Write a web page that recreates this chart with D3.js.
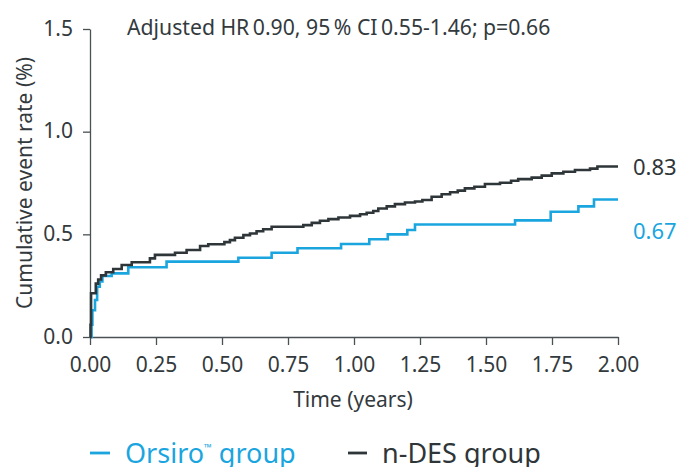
<!DOCTYPE html>
<html>
<head>
<meta charset="utf-8">
<script src="https://cdn.jsdelivr.net/npm/d3@7/dist/d3.min.js"></script>
<style>
  html, body { margin: 0; padding: 0; background: #fff; }
  svg { display: block; font-family: "Noto Sans", "Open Sans", sans-serif; }
</style>
</head>
<body>
<svg id="chart" width="677" height="467"></svg>
<script>
// Kaplan–Meier style cumulative event rates (%), time in years
const orsiroTime  = [0, 0.006, 0.009, 0.019, 0.027, 0.037, 0.047, 0.082, 0.145, 0.29, 0.562, 0.688, 0.786, 0.951, 1.058, 1.128, 1.202, 1.231, 1.61, 1.745, 1.85, 1.909, 2.0];
const orsiroRate  = [0, 0.06, 0.13, 0.18, 0.245, 0.27, 0.297, 0.31, 0.34, 0.367, 0.386, 0.41, 0.432, 0.453, 0.476, 0.5, 0.521, 0.548, 0.568, 0.61, 0.636, 0.67, 0.67];

const ndesTime = [0, 0.002, 0.004, 0.022, 0.031, 0.042, 0.06, 0.088, 0.12, 0.158, 0.227, 0.246, 0.322, 0.366, 0.417, 0.448, 0.509, 0.53, 0.549, 0.581, 0.606, 0.631, 0.656, 0.688, 0.808, 0.84, 0.871, 0.903, 0.941, 0.985, 1.023, 1.048, 1.073, 1.092, 1.124, 1.155, 1.193, 1.231, 1.259, 1.294, 1.332, 1.364, 1.393, 1.42, 1.456, 1.496, 1.553, 1.595, 1.622, 1.673, 1.711, 1.749, 1.793, 1.837, 1.894, 1.922, 2.0];
const ndesRate = [0, 0.06, 0.213, 0.26, 0.28, 0.30, 0.315, 0.331, 0.351, 0.364, 0.383, 0.40, 0.41, 0.424, 0.443, 0.452, 0.462, 0.472, 0.483, 0.496, 0.504, 0.515, 0.525, 0.537, 0.545, 0.556, 0.566, 0.574, 0.582, 0.59, 0.598, 0.605, 0.614, 0.626, 0.636, 0.647, 0.655, 0.66, 0.667, 0.683, 0.695, 0.705, 0.713, 0.724, 0.732, 0.745, 0.751, 0.761, 0.769, 0.776, 0.786, 0.797, 0.805, 0.813, 0.82, 0.83, 0.83];

const xTicks = [0, 0.25, 0.5, 0.75, 1.0, 1.25, 1.5, 1.75, 2.0];
const yTicks = [0, 0.5, 1.0, 1.5];

const endLabels = [0.67, 0.83];
const statsText = "Adjusted HR\u202F0.90, 95\u202F% CI\u202F0.55-1.46; p=0.66";

const blue = "#1ba5df";
const dark = "#2f3639";
const textColor = "#333a3d";

const svg = d3.select("#chart");

const x = d3.scaleLinear().domain([0, 2]).range([90, 618]);
const y = d3.scaleLinear().domain([0, 1.5]).range([337, 29]);

// Axes
const xAxis = d3.axisBottom(x).tickValues(xTicks).tickFormat(d3.format(".2f")).tickSize(8).tickSizeOuter(0).tickPadding(12);
const yAxis = d3.axisLeft(y).tickValues(yTicks).tickFormat(d3.format(".1f")).tickSize(7).tickSizeOuter(0).tickPadding(10);

const gx = svg.append("g").attr("transform", "translate(0,337)").call(xAxis);
const gy = svg.append("g").attr("transform", "translate(90,0)").call(yAxis);

[gx, gy].forEach(g => {
  g.selectAll("path, line").attr("stroke", "#4a5154").attr("stroke-width", 1.3);
  g.selectAll("text").attr("fill", textColor).style("font-size", "21px").style("font-family", "'Noto Sans', sans-serif");
});
gy.selectAll("text").attr("dy", "0.3em");

// Axis titles
svg.append("text")
  .attr("x", 353).attr("y", 407)
  .attr("text-anchor", "middle")
  .attr("fill", textColor)
  .style("font-size", "21px")
  .text("Time (years)");

svg.append("text")
  .attr("transform", "translate(32,183) rotate(-90)")
  .attr("text-anchor", "middle")
  .attr("fill", textColor)
  .style("font-size", "21px")
  .text("Cumulative event rate (%)");

// Stats annotation
svg.append("text")
  .attr("x", 127).attr("y", 35)
  .attr("fill", textColor)
  .style("font-size", "21.2px")
  .text(statsText);

// Step curves
const line = d3.line()
  .x(d => x(d[0]))
  .y(d => y(d[1]))
  .curve(d3.curveStepAfter);

const orsiro = d3.zip(orsiroTime, orsiroRate);
const ndes = d3.zip(ndesTime, ndesRate);

svg.append("path").datum(orsiro)
  .attr("fill", "none").attr("stroke", blue).attr("stroke-width", 2.6)
  .attr("d", line);

svg.append("path").datum(ndes)
  .attr("fill", "none").attr("stroke", dark).attr("stroke-width", 2.6)
  .attr("d", line);

// End-of-follow-up labels
svg.append("text")
  .attr("x", 633).attr("y", y(endLabels[1]) + 8)
  .attr("fill", dark).style("font-size", "22px")
  .text(endLabels[1].toFixed(2));

svg.append("text")
  .attr("x", 633).attr("y", y(endLabels[0]) + 40)
  .attr("fill", blue).style("font-size", "22px")
  .text(endLabels[0].toFixed(2));

// Legend
const legend = svg.append("g");
legend.append("line").attr("x1", 90).attr("x2", 110).attr("y1", 453).attr("y2", 453)
  .attr("stroke", blue).attr("stroke-width", 2.8);
const t1 = legend.append("text").attr("x", 125).attr("y", 463)
  .attr("fill", blue).style("font-size", "27px");
t1.append("tspan").text("Orsiro");
t1.append("tspan").attr("dy", -12).style("font-size", "10px").text("\u2122");
t1.append("tspan").attr("dy", 12).text(" group");

legend.append("line").attr("x1", 348).attr("x2", 367).attr("y1", 453).attr("y2", 453)
  .attr("stroke", dark).attr("stroke-width", 2.8);
legend.append("text").attr("x", 382).attr("y", 463)
  .attr("fill", dark).style("font-size", "27px")
  .text("n-DES group");
</script>
</body>
</html>
